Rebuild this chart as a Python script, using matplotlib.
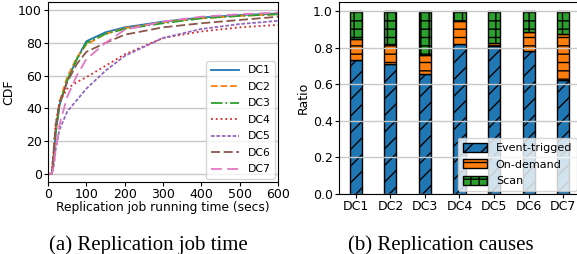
import matplotlib
matplotlib.use("Agg")
import matplotlib.pyplot as plt
import numpy as np

plt.rcParams['font.family'] = ['DejaVu Sans']
plt.rcParams['hatch.linewidth'] = 1.0

# ---- CDF data (job running time in secs, CDF %) ----
times = [0, 10, 15, 20, 30, 50, 75, 100, 150, 200, 300, 400, 500, 600]
cdf_dc1 = [0, 0, 10, 25, 42, 57, 70, 81, 86.5, 89.5, 93, 95.5, 97, 98]
cdf_dc2 = [0, 0, 12, 27, 44, 59, 71, 79, 85.5, 89, 92.5, 95, 96.5, 97.5]
cdf_dc3 = [0, 0, 10, 25, 42, 57, 70, 80, 85.5, 88.5, 92, 95, 96.5, 97.5]
cdf_dc4 = [0, 0, 15, 30, 44, 52, 56, 59, 66, 73, 83, 87, 89.5, 91]
cdf_dc5 = [0, 0, 5, 15, 27, 38, 45, 52, 63, 72, 83, 88.5, 91.5, 93.5]
cdf_dc6 = [0, 0, 15, 30, 43, 56, 67, 74.5, 80, 85, 89.5, 92, 94, 96]
cdf_dc7 = [0, 0, 5, 15, 30, 47, 60, 70, 80, 88, 93, 96, 97.5, 98.5]
cdf_labels = ["DC1", "DC2", "DC3", "DC4", "DC5", "DC6", "DC7"]

# ---- Replication causes ----
dcs = ["DC1", "DC2", "DC3", "DC4", "DC5", "DC6", "DC7"]
event_triggered = [0.735, 0.711, 0.656, 0.823, 0.808, 0.780, 0.625]
on_demand = [0.113, 0.110, 0.106, 0.122, 0.018, 0.107, 0.251]
scan = [0.152, 0.179, 0.238, 0.055, 0.174, 0.113, 0.124]

fig = plt.figure(figsize=(5.77, 2.54), dpi=100)

# ---------- (a) ----------
ax1 = fig.add_axes([0.0832, 0.2835, 0.3986, 0.7087])
styles = ['-', '--', '-.', ':', (0, (2, 1)), (0, (5, 2)), (0, (6, 3))]
colors = ['#1f77b4', '#ff7f0e', '#2ca02c', '#d62728', '#9467bd', '#8c564b', '#e377c2']
series = [cdf_dc1, cdf_dc2, cdf_dc3, cdf_dc4, cdf_dc5, cdf_dc6, cdf_dc7]
for vals, lab, ls, c in zip(series, cdf_labels, styles, colors):
    ax1.plot(times, vals, linestyle=ls, color=c, lw=1.3, label=lab)
ax1.set_xlim(0, 600)
ax1.set_ylim(-5, 105)
ax1.set_xticks([0, 100, 200, 300, 400, 500, 600])
ax1.set_yticks([0, 20, 40, 60, 80, 100])
ax1.yaxis.grid(True, color='#c8c8c8', lw=1.0)
ax1.tick_params(labelsize=9, length=3, pad=1.5)
ax1.set_xlabel("Replication job running time (secs)", fontsize=8.8, labelpad=0)
ax1.set_ylabel("CDF", fontsize=9, labelpad=2)
ax1.legend(loc='lower right', fontsize=7.8, handlelength=2.6, labelspacing=0.6,
           borderaxespad=0.3, handletextpad=0.8)

# ---------- (b) ----------
ax2 = fig.add_axes([0.5875, 0.2362, 0.4177, 0.7559])
x = np.arange(len(dcs))
w = 0.35
ax2.bar(x, event_triggered, w, color='#1f77b4', edgecolor='black', hatch='//',
        label='Event-trigged', lw=1.0)
ax2.bar(x, on_demand, w, bottom=event_triggered, color='#ff7f0e', edgecolor='black',
        hatch='--', label='On-demand', lw=1.0)
bot3 = [a + b for a, b in zip(event_triggered, on_demand)]
ax2.bar(x, scan, w, bottom=bot3, color='#2ca02c', edgecolor='black', hatch='++',
        label='Scan', lw=1.0)
ax2.set_xticks(x)
ax2.set_xticklabels(dcs)
ax2.set_xlim(-0.49, 6.49)
ax2.set_ylim(0, 1.05)
ax2.set_yticks([0.0, 0.2, 0.4, 0.6, 0.8, 1.0])
ax2.yaxis.grid(True, color='#c8c8c8', lw=1.0)
ax2.tick_params(labelsize=9, length=3, pad=1.5)
ax2.set_ylabel("Ratio", fontsize=9, labelpad=2)
ax2.legend(loc='lower right', fontsize=8, borderaxespad=0.3, handlelength=2.2,
           handleheight=0.9, labelspacing=0.55, handletextpad=0.8)

fig.text(0.257, 0.014, "(a) Replication job time", fontsize=15,
         family='Liberation Serif', ha='center', va='baseline')
fig.text(0.764, 0.014, "(b) Replication causes", fontsize=15,
         family='Liberation Serif', ha='center', va='baseline')

fig.savefig("out.png", dpi=100)
